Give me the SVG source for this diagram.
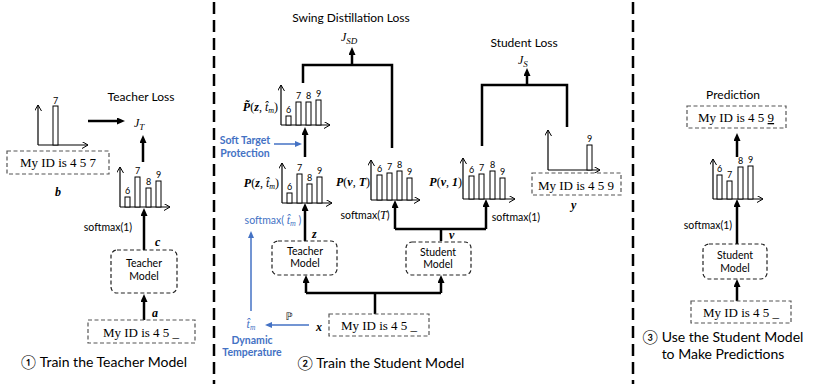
<svg xmlns="http://www.w3.org/2000/svg" width="814" height="385" viewBox="0 0 814 385">
<style>
.s{font-family:Lato,"DejaVu Sans",sans-serif;fill:#000}
.t12{font-size:12px}
.t10{font-size:10.5px}
.d{font-size:9px;font-family:Lato,"DejaVu Sans",sans-serif;text-anchor:middle}
.m{font-family:"Liberation Serif",serif;font-size:12px}
.bi{font-weight:bold;font-style:italic}
.it{font-style:italic}
.tx{font-family:"Liberation Serif",serif;font-size:13px;text-anchor:middle}
.title{font-family:Lato,"DejaVu Sans",sans-serif;font-size:14px;text-anchor:middle}
.blue{fill:#4472C4}
.bb{fill:#4472C4;font-weight:bold}
.box{fill:#fff;stroke:#555;stroke-width:1.2;stroke-dasharray:4 2.5}
.mbox{fill:#fff;stroke:#222;stroke-width:1.2;stroke-dasharray:4 2.5}
.ax{stroke:#000;stroke-width:1.2;fill:none;marker-end:url(#open)}
.bar{fill:#fff;stroke:#000;stroke-width:1}
.c{stroke:#000;stroke-width:2.5;fill:none}
.ca{stroke:#000;stroke-width:2.5;fill:none;marker-end:url(#arr)}
.ba{stroke:#4472C4;stroke-width:1.5;fill:none;marker-end:url(#barr)}
.sep{stroke:#000;stroke-width:2.5;stroke-dasharray:12 6;fill:none}
.mid{text-anchor:middle}
.end{text-anchor:end}
</style>
<defs>
<marker id="arr" markerUnits="userSpaceOnUse" markerWidth="9" markerHeight="8" refX="2" refY="3.5" orient="auto"><path d="M0,0 L8,3.5 L0,7 z" fill="#000"/></marker>
<marker id="barr" markerUnits="userSpaceOnUse" markerWidth="8" markerHeight="7" refX="2" refY="3" orient="auto"><path d="M0,0 L7,3 L0,6 z" fill="#4472C4"/></marker>
<marker id="open" markerUnits="userSpaceOnUse" markerWidth="8" markerHeight="8" refX="6" refY="3.5" orient="auto"><path d="M0,0 L6,3.5 L0,7" fill="none" stroke="#000" stroke-width="1"/></marker>
</defs>
<rect width="814" height="385" fill="#fff"/>

<g id="separators">
<line class="sep" x1="214" y1="2" x2="214" y2="384"/>
<line class="sep" x1="633" y1="2" x2="633" y2="384"/>
</g>

<g id="connectors">
<!-- panel 1 -->
<line class="ca" x1="88" y1="121" x2="119" y2="121"/>
<line class="ca" x1="143" y1="162" x2="143" y2="141"/>
<line class="ca" x1="144" y1="250" x2="144" y2="214"/>
<line class="ca" x1="144" y1="320" x2="144" y2="300"/>
<!-- panel 2 -->
<path class="c" d="M303,83 V65 H392 V148"/>
<line class="ca" x1="352" y1="65" x2="352" y2="53"/>
<line class="ca" x1="305" y1="157" x2="305" y2="133"/>
<line class="ca" x1="305" y1="241" x2="305" y2="209"/>
<path class="c" d="M395,229 H486"/>
<line class="ca" x1="395" y1="229" x2="395" y2="206"/>
<line class="ca" x1="486" y1="229" x2="486" y2="205"/>
<line class="c" x1="441" y1="241" x2="441" y2="228"/>
<path class="c" d="M375,314 V293"/>
<path class="c" d="M306,293 H441"/>
<line class="ca" x1="306" y1="293" x2="306" y2="281"/>
<line class="ca" x1="441" y1="293" x2="441" y2="281"/>
<path class="c" d="M482,146 V85 H567 V127"/>
<line class="ca" x1="527" y1="85" x2="527" y2="74"/>
<line class="ba" x1="274" y1="144" x2="297" y2="144"/>
<line class="ba" x1="309" y1="325" x2="270" y2="325"/>
<line class="ba" x1="251" y1="311" x2="251" y2="236"/>
<!-- panel 3 -->
<line class="ca" x1="737" y1="157" x2="737" y2="139"/>
<line class="ca" x1="737" y1="244" x2="737" y2="205"/>
<line class="ca" x1="737" y1="301" x2="737" y2="285"/>
</g>

<!-- ============ Panel 1 ============ -->
<g id="teacher-loss">
<text class="s t12 mid" x="141" y="101">Teacher Loss</text>
<text class="m" x="134" y="127" font-size="16"><tspan class="it">J</tspan><tspan class="it" font-size="9" dy="3">T</tspan></text>
</g>
<g id="chart-b">
<line class="ax" x1="38" y1="145" x2="38" y2="105"/>
<line class="ax" x1="38" y1="145" x2="88" y2="145"/>
<rect class="bar" x="53" y="106" width="5" height="39"/>
<text class="d" x="55.5" y="104">7</text>
</g>
<g id="target-b">
<rect class="box" x="7" y="151" width="102" height="23"/>
<text class="tx" x="58" y="167">My ID is 4 5 7</text>
<text class="m bi" x="55" y="196" font-size="13">b</text>
</g>
<g id="chart-c">
<line class="ax" x1="120" y1="207" x2="120" y2="167"/>
<line class="ax" x1="120" y1="207" x2="170" y2="207"/>
<rect class="bar" x="125" y="197" width="5" height="10"/>
<rect class="bar" x="135" y="177" width="5" height="30"/>
<rect class="bar" x="146" y="188" width="5" height="19"/>
<rect class="bar" x="156" y="181" width="5" height="26"/>
<text class="d" x="127.5" y="194">6</text>
<text class="d" x="137.5" y="174">7</text>
<text class="d" x="148.5" y="185">8</text>
<text class="d" x="158.5" y="178">9</text>
<text class="s t10 mid" x="108" y="231">softmax(1)</text>
<text class="m bi" x="155" y="246" font-size="13">c</text>
</g>
<g id="teacher-model-1">
<rect class="mbox" x="111" y="250" width="66" height="43" rx="6"/>
<text class="s t10 mid" x="144" y="267">Teacher</text>
<text class="s t10 mid" x="144" y="280">Model</text>
</g>
<g id="input-a">
<text class="m bi" x="152" y="317" font-size="13">a</text>
<rect class="box" x="88" y="320" width="107" height="23"/>
<text class="tx" x="141" y="337">My ID is 4 5 _</text>
</g>
<text id="title-1" class="title" x="104" y="367">① Train the Teacher Model</text>

<!-- ============ Panel 2 ============ -->
<g id="sd-loss">
<text class="s t12 mid" x="351" y="22">Swing Distillation Loss</text>
<text class="m" x="341" y="41" font-size="16"><tspan class="it">J</tspan><tspan class="it" font-size="9" dy="3">SD</tspan></text>
</g>
<g id="chart-ptilde">
<line class="ax" x1="281" y1="125" x2="281" y2="85"/>
<line class="ax" x1="281" y1="125" x2="330" y2="125"/>
<rect class="bar" x="286" y="116" width="5" height="9"/>
<rect class="bar" x="296" y="102" width="5" height="23"/>
<rect class="bar" x="306" y="102" width="5" height="23"/>
<rect class="bar" x="316" y="100" width="5" height="25"/>
<text class="d" x="288.5" y="113">6</text>
<text class="d" x="298.5" y="99">7</text>
<text class="d" x="308.5" y="99">8</text>
<text class="d" x="318.5" y="97">9</text>
<text class="m end" x="278" y="111" font-size="11.5"><tspan class="bi">P&#x303;</tspan>(<tspan class="bi">z</tspan>, <tspan class="it">t&#x302;</tspan><tspan class="it" font-size="8" dy="2">m</tspan><tspan dy="-2">)</tspan></text>
</g>
<g id="soft-target-protection">
<text class="s t10 bb mid" x="245" y="144">Soft Target</text>
<text class="s t10 bb mid" x="245" y="157">Protection</text>
</g>
<g id="chart-pz">
<line class="ax" x1="282" y1="203" x2="282" y2="163"/>
<line class="ax" x1="282" y1="203" x2="332" y2="203"/>
<rect class="bar" x="287" y="193" width="5" height="10"/>
<rect class="bar" x="297" y="174" width="5" height="29"/>
<rect class="bar" x="307" y="184" width="5" height="19"/>
<rect class="bar" x="317" y="177" width="5" height="26"/>
<text class="d" x="289.5" y="190">6</text>
<text class="d" x="299.5" y="171">7</text>
<text class="d" x="309.5" y="181">8</text>
<text class="d" x="319.5" y="174">9</text>
<text class="m end" x="279" y="187" font-size="11.5"><tspan class="bi">P</tspan>(<tspan class="bi">z</tspan>, <tspan class="it">t&#x302;</tspan><tspan class="it" font-size="8" dy="2">m</tspan><tspan dy="-2">)</tspan></text>
<text class="s t10 blue mid" x="273" y="224">softmax( <tspan class="it" font-family="Liberation Serif,serif" font-size="12">t&#x302;</tspan><tspan class="it" font-family="Liberation Serif,serif" font-size="8" dy="2">m</tspan><tspan dy="-2"> )</tspan></text>
<text class="m bi" x="312" y="238" font-size="13">z</text>
</g>
<g id="chart-pvT">
<line class="ax" x1="371" y1="200" x2="371" y2="160"/>
<line class="ax" x1="371" y1="200" x2="420" y2="200"/>
<rect class="bar" x="377" y="175" width="5" height="25"/>
<rect class="bar" x="387" y="173" width="5" height="27"/>
<rect class="bar" x="397" y="171" width="5" height="29"/>
<rect class="bar" x="407" y="178" width="5" height="22"/>
<text class="d" x="379.5" y="172">6</text>
<text class="d" x="389.5" y="170">7</text>
<text class="d" x="399.5" y="168">8</text>
<text class="d" x="409.5" y="175">9</text>
<text class="m end" x="370" y="186" font-size="11.5"><tspan class="bi">P</tspan>(<tspan class="bi">v</tspan>, <tspan class="bi">T</tspan>)</text>
<text class="s t10 mid" x="365" y="219">softmax(<tspan class="it" font-family="Liberation Serif,serif" font-size="12">T</tspan>)</text>
</g>
<g id="chart-pv1">
<line class="ax" x1="463" y1="199" x2="463" y2="158"/>
<line class="ax" x1="463" y1="199" x2="515" y2="199"/>
<rect class="bar" x="469" y="176" width="5" height="23"/>
<rect class="bar" x="479" y="174" width="5" height="25"/>
<rect class="bar" x="490" y="171" width="5" height="28"/>
<rect class="bar" x="500" y="178" width="5" height="21"/>
<text class="d" x="471.5" y="173">6</text>
<text class="d" x="481.5" y="171">7</text>
<text class="d" x="492.5" y="168">8</text>
<text class="d" x="502.5" y="175">9</text>
<text class="m end" x="462" y="186" font-size="11.5"><tspan class="bi">P</tspan>(<tspan class="bi">v</tspan>, <tspan class="bi">1</tspan>)</text>
<text class="s t10 mid" x="516" y="221">softmax(1)</text>
<text class="m bi" x="449" y="239" font-size="13">v</text>
</g>
<g id="teacher-model-2">
<rect class="mbox" x="272" y="241" width="65" height="34" rx="6"/>
<text class="s t10 mid" x="305" y="255">Teacher</text>
<text class="s t10 mid" x="305" y="267">Model</text>
</g>
<g id="student-model-2">
<rect class="mbox" x="406" y="242" width="65" height="33" rx="6"/>
<text class="s t10 mid" x="438" y="256">Student</text>
<text class="s t10 mid" x="438" y="268">Model</text>
</g>
<g id="input-x">
<rect class="box" x="329" y="314" width="100" height="22"/>
<text class="tx" x="379" y="330">My ID is 4 5 _</text>
<text class="m bi" x="316" y="331" font-size="13">x</text>
<text x="289" y="320" font-family="DejaVu Sans,sans-serif" font-size="10" text-anchor="middle">ℙ</text>
</g>
<g id="dynamic-temperature">
<text class="m blue mid" x="251" y="328" font-size="11"><tspan class="it">t&#x302;</tspan><tspan class="it" font-size="7.5" dy="2">m</tspan></text>
<text class="s t10 bb mid" x="252" y="344">Dynamic</text>
<text class="s t10 bb mid" x="252" y="356">Temperature</text>
</g>
<g id="student-loss">
<text class="s t12 mid" x="524" y="47">Student Loss</text>
<text class="m" x="518" y="64" font-size="16"><tspan class="it">J</tspan><tspan class="it" font-size="9" dy="3">S</tspan></text>
</g>
<g id="chart-y">
<line class="ax" x1="548" y1="170" x2="548" y2="130"/>
<line class="ax" x1="548" y1="170" x2="600" y2="170"/>
<rect class="bar" x="587" y="145" width="5" height="25"/>
<text class="d" x="589.5" y="142">9</text>
</g>
<g id="target-y">
<rect class="box" x="532" y="173" width="89" height="22"/>
<text class="tx" x="576" y="190">My ID is 4 5 9</text>
<text class="m bi" x="571" y="209" font-size="13">y</text>
</g>
<text id="title-2" class="title" x="381" y="368">② Train the Student Model</text>

<!-- ============ Panel 3 ============ -->
<g id="prediction">
<text class="s t12 mid" x="733" y="99">Prediction</text>
<rect class="box" x="687" y="106" width="99" height="22"/>
<text class="tx" x="736" y="122">My ID is 4 5 <tspan text-decoration="underline">9</tspan></text>
</g>
<g id="chart-pred">
<line class="ax" x1="713" y1="199" x2="713" y2="159"/>
<line class="ax" x1="713" y1="199" x2="763" y2="199"/>
<rect class="bar" x="717" y="175" width="5" height="24"/>
<rect class="bar" x="727" y="181" width="5" height="18"/>
<rect class="bar" x="738" y="167" width="5" height="32"/>
<rect class="bar" x="748" y="166" width="5" height="33"/>
<text class="d" x="719.5" y="172">6</text>
<text class="d" x="729.5" y="178">7</text>
<text class="d" x="740.5" y="164">8</text>
<text class="d" x="750.5" y="163">9</text>
<text class="s t10 mid" x="708" y="229">softmax(1)</text>
</g>
<g id="student-model-3">
<rect class="mbox" x="703" y="244" width="64" height="35" rx="6"/>
<text class="s t10 mid" x="735" y="259">Student</text>
<text class="s t10 mid" x="735" y="272">Model</text>
</g>
<g id="input-3">
<rect class="box" x="691" y="301" width="100" height="22"/>
<text class="tx" x="741" y="317">My ID is 4 5 _</text>
</g>
<g id="title-3">
<text class="title" x="723" y="342">③ Use the Student Model</text>
<text class="title" x="723" y="359">to Make Predictions</text>
</g>
</svg>
